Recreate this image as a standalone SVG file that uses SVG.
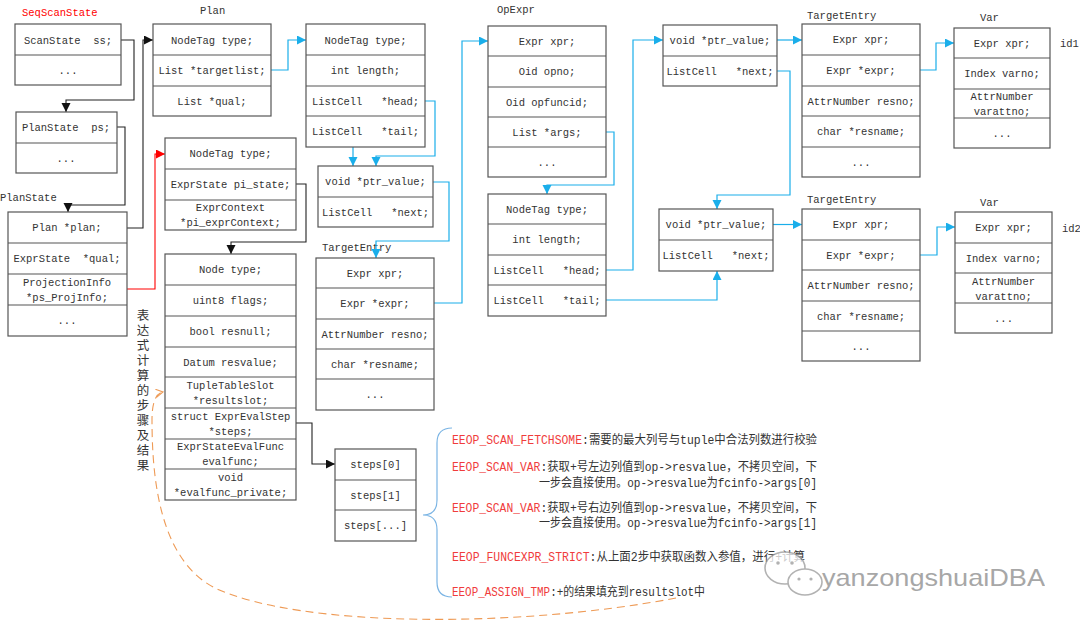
<svg xmlns="http://www.w3.org/2000/svg" width="1080" height="626" viewBox="0 0 1080 626">
<defs>
<style>
.b{fill:#fff;stroke:#555;stroke-width:1.2}
.d{stroke:#555;stroke-width:1.2}
.t{font-family:"Liberation Mono","Noto Sans CJK SC",monospace;font-size:10.5px;fill:#333;text-anchor:middle;white-space:pre}
.lb{font-family:"Liberation Mono","Noto Sans CJK SC",monospace;font-size:10.5px;fill:#333}
.k{fill:none;stroke:#222;stroke-width:1.1}
.bl{fill:none;stroke:#1aaeea;stroke-width:1.2}
.rd{fill:none;stroke:#f00;stroke-width:1.1}
.tx{font-family:"Liberation Mono","Noto Sans CJK SC",monospace;font-size:12px;fill:#333}
.red{fill:#f03c3c}
.vc{font-family:"Noto Sans CJK SC",sans-serif;font-size:12.5px;fill:#333;writing-mode:vertical-rl;letter-spacing:2.5px}
</style>
<marker id="ak" markerUnits="userSpaceOnUse" markerWidth="10" markerHeight="10" refX="9" refY="4.5" orient="auto"><path d="M0,0 L9,4.5 L0,9 z" fill="#111"/></marker>
<marker id="ab" markerUnits="userSpaceOnUse" markerWidth="10" markerHeight="10" refX="9" refY="4.5" orient="auto"><path d="M0,0 L9,4.5 L0,9 z" fill="#1aaeea"/></marker>
<marker id="ar" markerUnits="userSpaceOnUse" markerWidth="10" markerHeight="10" refX="9" refY="4.5" orient="auto"><path d="M0,0 L9,4.5 L0,9 z" fill="#f00"/></marker>
<marker id="ao" markerUnits="userSpaceOnUse" markerWidth="10" markerHeight="10" refX="7" refY="4" orient="auto"><path d="M0,0 L7,4 L0,8" fill="none" stroke="#ee9a55" stroke-width="1.1"/></marker>
</defs>
<rect width="1080" height="626" fill="#fff"/>

<!-- labels -->
<text x="22" y="16" class="lb" style="fill:#f00">SeqScanState</text>
<text x="0" y="201" class="lb">PlanState</text>
<text x="200" y="14" class="lb">Plan</text>
<text x="497" y="13" class="lb">OpExpr</text>
<text x="322" y="251" class="lb">TargetEntry</text>
<text x="807" y="19" class="lb">TargetEntry</text>
<text x="807" y="203" class="lb">TargetEntry</text>
<text x="980" y="21" class="lb">Var</text>
<text x="980" y="206" class="lb">Var</text>
<text x="1060" y="47" class="lb">id1</text>
<text x="1062" y="232" class="lb">id2</text>

<g id="connectors">
<path class="k" d="M121,40 H134 V100 H66 V112" marker-end="url(#ak)"/>
<path class="k" d="M117,127 H125 V205 H68 V212" marker-end="url(#ak)"/>
<path class="k" d="M127,228 H143 V40 H153" marker-end="url(#ak)"/>
<path class="k" d="M296,184 H306 V242 H231 V254" marker-end="url(#ak)"/>
<path class="k" d="M296,423 H312 V464 H335" marker-end="url(#ak)"/>
<path class="rd" d="M127,289 H155 V154 H165" marker-end="url(#ar)"/>
<path class="bl" d="M271,70 H288 V40 H306" marker-end="url(#ab)"/>
<path class="bl" d="M425,101 H435 V156 H376 V166" marker-end="url(#ab)"/>
<path class="bl" d="M353,147 V166" marker-end="url(#ab)"/>
<path class="bl" d="M433,182 H449 V241 H376 V258" marker-end="url(#ab)"/>
<path class="bl" d="M434,303 H462 V41 H488" marker-end="url(#ab)"/>
<path class="bl" d="M606,132 H614 V185 H547 V194" marker-end="url(#ab)"/>
<path class="bl" d="M606,270 H633 V40 H663" marker-end="url(#ab)"/>
<path class="bl" d="M606,300 H717 V271" marker-end="url(#ab)"/>
<path class="bl" d="M777,40 H802" marker-end="url(#ab)"/>
<path class="bl" d="M777,71 H790 V195 H717 V209" marker-end="url(#ab)"/>
<path class="bl" d="M773,224.5 H802" marker-end="url(#ab)"/>
<path class="bl" d="M920,70 H936 V43 H954" marker-end="url(#ab)"/>
<path class="bl" d="M920,255 H937 V227 H955" marker-end="url(#ab)"/>
<path d="M452,428 Q437,428 437,443 V500 Q437,515 423,515 Q437,515 437,530 V582 Q437,597 452,597" fill="none" stroke="#7ab4e4" stroke-width="1.2"/>
<path d="M676,598 C520,628 300,628 215,588 C160,560 152,480 152,420 Q152,394 163,392" fill="none" stroke="#ee9a55" stroke-width="1.1" stroke-dasharray="8,5" marker-end="url(#ao)"/>
</g>

<g id="seqscanstate">
<rect class="b" x="15" y="24" width="106" height="61"/><line class="d" x1="15" y1="55" x2="121" y2="55"/>
<text class="t" x="68" y="43.5">ScanState  ss;</text><text class="t" x="68" y="74">...</text>
</g>
<g id="planstate-ps">
<rect class="b" x="16" y="112" width="101" height="61"/><line class="d" x1="16" y1="143" x2="117" y2="143"/>
<text class="t" x="66" y="131">PlanState  ps;</text><text class="t" x="66" y="162">...</text>
</g>
<g id="planstate">
<rect class="b" x="8" y="212" width="119" height="124"/>
<line class="d" x1="8" y1="243" x2="127" y2="243"/><line class="d" x1="8" y1="274" x2="127" y2="274"/><line class="d" x1="8" y1="305" x2="127" y2="305"/>
<text class="t" x="67" y="231">Plan *plan;</text><text class="t" x="67" y="262">ExprState  *qual;</text>
<text class="t" x="67" y="286">ProjectionInfo</text><text class="t" x="67" y="301">*ps_ProjInfo;</text>
<text class="t" x="67" y="324">...</text>
</g>
<g id="plan">
<rect class="b" x="153" y="24" width="118" height="92"/>
<line class="d" x1="153" y1="55" x2="271" y2="55"/><line class="d" x1="153" y1="86" x2="271" y2="86"/>
<text class="t" x="212" y="43.5">NodeTag type;</text><text class="t" x="212" y="74">List *targetlist;</text><text class="t" x="212" y="104.5">List *qual;</text>
</g>
<g id="list1">
<rect class="b" x="306" y="24" width="119" height="123"/>
<line class="d" x1="306" y1="55" x2="425" y2="55"/><line class="d" x1="306" y1="86" x2="425" y2="86"/><line class="d" x1="306" y1="116" x2="425" y2="116"/>
<text class="t" x="365.5" y="43.5">NodeTag type;</text><text class="t" x="365.5" y="74">int length;</text>
<text class="t" x="365.5" y="104.5">ListCell   *head;</text><text class="t" x="365.5" y="135">ListCell   *tail;</text>
</g>
<g id="listcell1">
<rect class="b" x="318" y="166" width="115" height="61"/><line class="d" x1="318" y1="197" x2="433" y2="197"/>
<text class="t" x="375.5" y="185">void *ptr_value;</text><text class="t" x="375.5" y="216">ListCell   *next;</text>
</g>
<g id="projectioninfo">
<rect class="b" x="165" y="138" width="131" height="92"/>
<line class="d" x1="165" y1="169" x2="296" y2="169"/><line class="d" x1="165" y1="200" x2="296" y2="200"/>
<text class="t" x="230.5" y="157">NodeTag type;</text><text class="t" x="230.5" y="188">ExprState pi_state;</text>
<text class="t" x="230.5" y="211">ExprContext</text><text class="t" x="230.5" y="226">*pi_exprContext;</text>
</g>
<g id="exprstate">
<rect class="b" x="165" y="254" width="131" height="246"/>
<line class="d" x1="165" y1="285" x2="296" y2="285"/><line class="d" x1="165" y1="316" x2="296" y2="316"/>
<line class="d" x1="165" y1="347" x2="296" y2="347"/><line class="d" x1="165" y1="377" x2="296" y2="377"/>
<line class="d" x1="165" y1="408" x2="296" y2="408"/><line class="d" x1="165" y1="439" x2="296" y2="439"/>
<line class="d" x1="165" y1="469" x2="296" y2="469"/>
<text class="t" x="230.5" y="273">Node type;</text><text class="t" x="230.5" y="304">uint8 flags;</text>
<text class="t" x="230.5" y="335">bool resnull;</text><text class="t" x="230.5" y="365.5">Datum resvalue;</text>
<text class="t" x="230.5" y="388.5">TupleTableSlot</text><text class="t" x="230.5" y="403.5">*resultslot;</text>
<text class="t" x="230.5" y="419.5">struct ExprEvalStep</text><text class="t" x="230.5" y="434.5">*steps;</text>
<text class="t" x="230.5" y="450">ExprStateEvalFunc</text><text class="t" x="230.5" y="465">evalfunc;</text>
<text class="t" x="230.5" y="480.5">void</text><text class="t" x="230.5" y="495.5">*evalfunc_private;</text>
</g>
<g id="targetentry0">
<rect class="b" x="316" y="258" width="118" height="152"/>
<line class="d" x1="316" y1="288" x2="434" y2="288"/><line class="d" x1="316" y1="319" x2="434" y2="319"/>
<line class="d" x1="316" y1="349" x2="434" y2="349"/><line class="d" x1="316" y1="379" x2="434" y2="379"/>
<text class="t" x="375" y="276.5">Expr xpr;</text><text class="t" x="375" y="307">Expr *expr;</text>
<text class="t" x="375" y="337.5">AttrNumber resno;</text><text class="t" x="375" y="367.5">char *resname;</text><text class="t" x="375" y="398">...</text>
</g>
<g id="steps">
<rect class="b" x="335" y="449" width="81" height="92"/>
<line class="d" x1="335" y1="480" x2="416" y2="480"/><line class="d" x1="335" y1="510" x2="416" y2="510"/>
<text class="t" x="375.5" y="468">steps[0]</text><text class="t" x="375.5" y="498.5">steps[1]</text><text class="t" x="375.5" y="529">steps[...]</text>
</g>
<g id="opexpr">
<rect class="b" x="488" y="26" width="118" height="151"/>
<line class="d" x1="488" y1="56" x2="606" y2="56"/><line class="d" x1="488" y1="87" x2="606" y2="87"/>
<line class="d" x1="488" y1="117" x2="606" y2="117"/><line class="d" x1="488" y1="147" x2="606" y2="147"/>
<text class="t" x="547" y="44.5">Expr xpr;</text><text class="t" x="547" y="75">Oid opno;</text>
<text class="t" x="547" y="105.5">Oid opfuncid;</text><text class="t" x="547" y="135.5">List *args;</text><text class="t" x="547" y="165.5">...</text>
</g>
<g id="list2">
<rect class="b" x="488" y="194" width="118" height="122"/>
<line class="d" x1="488" y1="224" x2="606" y2="224"/><line class="d" x1="488" y1="255" x2="606" y2="255"/><line class="d" x1="488" y1="285" x2="606" y2="285"/>
<text class="t" x="547" y="212.5">NodeTag type;</text><text class="t" x="547" y="243">int length;</text>
<text class="t" x="547" y="273.5">ListCell   *head;</text><text class="t" x="547" y="304">ListCell   *tail;</text>
</g>
<g id="listcellA">
<rect class="b" x="663" y="25" width="114" height="61"/><line class="d" x1="663" y1="56" x2="777" y2="56"/>
<text class="t" x="720" y="44">void *ptr_value;</text><text class="t" x="720" y="74.5">ListCell   *next;</text>
</g>
<g id="listcellB">
<rect class="b" x="659" y="209" width="114" height="62"/><line class="d" x1="659" y1="240" x2="773" y2="240"/>
<text class="t" x="716" y="228">void *ptr_value;</text><text class="t" x="716" y="259">ListCell   *next;</text>
</g>
<g id="targetentry1">
<rect class="b" x="802" y="24" width="118" height="153"/>
<line class="d" x1="802" y1="55" x2="920" y2="55"/><line class="d" x1="802" y1="86" x2="920" y2="86"/>
<line class="d" x1="802" y1="116" x2="920" y2="116"/><line class="d" x1="802" y1="147" x2="920" y2="147"/>
<text class="t" x="861" y="43">Expr xpr;</text><text class="t" x="861" y="74">Expr *expr;</text>
<text class="t" x="861" y="104.5">AttrNumber resno;</text><text class="t" x="861" y="135">char *resname;</text><text class="t" x="861" y="165.5">...</text>
</g>
<g id="targetentry2">
<rect class="b" x="802" y="209" width="118" height="152"/>
<line class="d" x1="802" y1="240" x2="920" y2="240"/><line class="d" x1="802" y1="270" x2="920" y2="270"/>
<line class="d" x1="802" y1="301" x2="920" y2="301"/><line class="d" x1="802" y1="331" x2="920" y2="331"/>
<text class="t" x="861" y="228">Expr xpr;</text><text class="t" x="861" y="258.5">Expr *expr;</text>
<text class="t" x="861" y="289">AttrNumber resno;</text><text class="t" x="861" y="319.5">char *resname;</text><text class="t" x="861" y="349.5">...</text>
</g>
<g id="var1">
<rect class="b" x="954" y="28" width="96" height="120"/>
<line class="d" x1="954" y1="58" x2="1050" y2="58"/><line class="d" x1="954" y1="89" x2="1050" y2="89"/><line class="d" x1="954" y1="118" x2="1050" y2="118"/>
<text class="t" x="1002" y="46.5">Expr xpr;</text><text class="t" x="1002" y="77">Index varno;</text>
<text class="t" x="1002" y="100">AttrNumber</text><text class="t" x="1002" y="115">varattno;</text><text class="t" x="1002" y="136.5">...</text>
</g>
<g id="var2">
<rect class="b" x="955" y="212" width="97" height="121"/>
<line class="d" x1="955" y1="243" x2="1052" y2="243"/><line class="d" x1="955" y1="273" x2="1052" y2="273"/><line class="d" x1="955" y1="303" x2="1052" y2="303"/>
<text class="t" x="1003.5" y="231">Expr xpr;</text><text class="t" x="1003.5" y="261.5">Index varno;</text>
<text class="t" x="1003.5" y="284.5">AttrNumber</text><text class="t" x="1003.5" y="299.5">varattno;</text><text class="t" x="1003.5" y="321.5">...</text>
</g>

<g id="vertical-label">
<text class="vc" x="143" y="309">表达式计算的步骤及结果</text>
</g>

<g id="steps-notes">
<text class="tx" x="452" y="444" textLength="365" lengthAdjust="spacingAndGlyphs"><tspan class="red">EEOP_SCAN_FETCHSOME</tspan>:需要的最大列号与tuple中合法列数进行校验</text>
<text class="tx" x="452" y="471" textLength="365" lengthAdjust="spacingAndGlyphs"><tspan class="red">EEOP_SCAN_VAR</tspan>:获取+号左边列值到op-&gt;resvalue，不拷贝空间，下</text>
<text class="tx" x="539" y="487" textLength="278" lengthAdjust="spacingAndGlyphs">一步会直接使用。op-&gt;resvalue为fcinfo-&gt;args[0]</text>
<text class="tx" x="452" y="512" textLength="365" lengthAdjust="spacingAndGlyphs"><tspan class="red">EEOP_SCAN_VAR</tspan>:获取+号右边列值到op-&gt;resvalue，不拷贝空间，下</text>
<text class="tx" x="539" y="527" textLength="278" lengthAdjust="spacingAndGlyphs">一步会直接使用。op-&gt;resvalue为fcinfo-&gt;args[1]</text>
<text class="tx" x="452" y="561" textLength="353" lengthAdjust="spacingAndGlyphs"><tspan class="red">EEOP_FUNCEXPR_STRICT</tspan>:从上面2步中获取函数入参值，进行+计算</text>
<text class="tx" x="452" y="596" textLength="253" lengthAdjust="spacingAndGlyphs"><tspan class="red">EEOP_ASSIGN_TMP</tspan>:+的结果填充到resultslot中</text>
</g>

<g id="watermark" opacity="0.75">
<ellipse cx="785" cy="568" rx="20" ry="16" fill="#fff" stroke="#999" stroke-width="1.6"/>
<ellipse cx="805" cy="582" rx="17" ry="13" fill="#fff" stroke="#999" stroke-width="1.6"/>
<circle cx="778" cy="563" r="1.8" fill="#999"/><circle cx="792" cy="563" r="1.8" fill="#999"/>
<circle cx="799" cy="579" r="1.6" fill="#999"/><circle cx="811" cy="579" r="1.6" fill="#999"/>
<text x="822" y="586" font-family="Liberation Sans,sans-serif" font-size="24" fill="#8a8a8a" textLength="223" lengthAdjust="spacingAndGlyphs">yanzongshuaiDBA</text>
</g>
</svg>
